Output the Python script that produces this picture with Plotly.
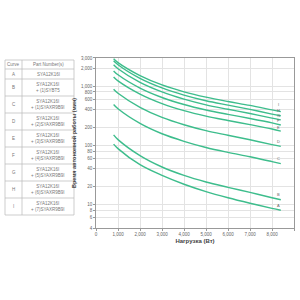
import math
import plotly.graph_objects as go

# ---- data ----
load_w = [800, 1000, 2000, 3000, 4000, 5000, 6000, 7000, 8000, 8400]
curve_names = ["A", "B", "C", "D", "E", "F", "G", "H", "I"]
runtime_A = [105, 88, 47, 31, 22, 16.5, 13, 10.5, 8.6, 8]
runtime_B = [150, 125, 67, 43, 31, 24, 19.5, 16, 13, 12]
runtime_C = [490, 415, 235, 157, 117, 92, 76, 64, 53, 49]
runtime_D = [890, 760, 440, 297, 223, 177, 148, 124, 103, 96]
runtime_E = [1430, 1230, 735, 508, 386, 312, 263, 224, 189, 174]
runtime_F = [1815, 1560, 930, 645, 490, 396, 334, 285, 240, 221]
runtime_G = [2300, 1970, 1160, 800, 603, 483, 407, 345, 288, 270]
runtime_H = [2700, 2310, 1360, 937, 707, 567, 478, 405, 338, 316]
runtime_I = [2900, 2500, 1510, 1050, 803, 652, 551, 473, 397, 371]
series = [runtime_A, runtime_B, runtime_C, runtime_D, runtime_E,
          runtime_F, runtime_G, runtime_H, runtime_I]

y_ticks = [4, 6, 8, 10, 20, 40, 60, 80, 100, 200, 400, 600, 800, 1000, 2000, 3000]
x_ticks = [0, 1000, 2000, 3000, 4000, 5000, 6000, 7000, 8000, 9000]

table_header = ["Curve", "Part Number(s)"]
table_parts = ["SYA12K16I",
               "SYA12K16I<br>+ (1)SYBT5",
               "SYA12K16I<br>+ (1)SYAXR9B9I",
               "SYA12K16I<br>+ (2)SYAXR9B9I",
               "SYA12K16I<br>+ (3)SYAXR9B9I",
               "SYA12K16I<br>+ (4)SYAXR9B9I",
               "SYA12K16I<br>+ (5)SYAXR9B9I",
               "SYA12K16I<br>+ (6)SYAXR9B9I",
               "SYA12K16I<br>+ (7)SYAXR9B9I"]

# label offsets (pixels) above each curve end, A..I
label_yshift = [5, 5, 5, 5, 3.5, 4, 4, 5, 7]

# ---- layout geometry (pixels) ----
W, H = 300, 300
L, R, T, B = 96, 6, 58, 72
PW, PH = W - L - R, H - T - B


def px(x):
    return (x - L) / PW


def py(y):
    return (H - B - y) / PH


GREEN = "#3dbd8c"
FONT = "Liberation Sans, Arial, sans-serif"

fig = go.Figure()
for name, vals, ys in zip(curve_names, series, label_yshift):
    fig.add_trace(go.Scatter(x=load_w, y=vals, mode="lines", name=name,
                             line=dict(color=GREEN, width=1.4, shape="spline"),
                             showlegend=False, hoverinfo="skip"))
    fig.add_annotation(x=load_w[-1], y=math.log10(vals[-1]), xref="x", yref="y",
                       text=name, showarrow=False, xanchor="center",
                       yanchor="middle", xshift=-2, yshift=ys,
                       font=dict(size=4, color="#666", family=FONT))

shapes = []
annots = []
# table geometry
tx0, tx1, tx2 = 5, 22, 74
row_edges = [60, 69, 79] + [79 + 17 * i for i in range(1, 9)]
line_col = "#b8b8b8"
for ye in row_edges:
    shapes.append(dict(type="line", xref="paper", yref="paper",
                       x0=px(tx0), x1=px(tx2), y0=py(ye), y1=py(ye),
                       line=dict(color=line_col, width=0.7)))
for xe in [tx0, tx1, tx2]:
    shapes.append(dict(type="line", xref="paper", yref="paper",
                       x0=px(xe), x1=px(xe), y0=py(row_edges[0]), y1=py(row_edges[-1]),
                       line=dict(color=line_col, width=0.7)))
tfont = dict(size=4.5, color="#777", family=FONT)
annots.append(dict(x=px((tx0 + tx1) / 2), y=py((row_edges[0] + row_edges[1]) / 2),
                   text=table_header[0], font=tfont))
annots.append(dict(x=px((tx1 + tx2) / 2), y=py((row_edges[0] + row_edges[1]) / 2),
                   text=table_header[1], font=tfont))
for i, (nm, part) in enumerate(zip(curve_names, table_parts)):
    yc = (row_edges[i + 1] + row_edges[i + 2]) / 2
    annots.append(dict(x=px((tx0 + tx1) / 2), y=py(yc), text=nm, font=tfont))
    annots.append(dict(x=px((tx1 + tx2) / 2), y=py(yc), text=part, font=tfont))
for a in annots:
    a.update(xref="paper", yref="paper", showarrow=False,
             xanchor="center", yanchor="middle")
    fig.add_annotation(**a)

fig.update_layout(
    width=W, height=H,
    margin=dict(l=L, r=R, t=T, b=B, pad=0),
    paper_bgcolor="white", plot_bgcolor="white",
    shapes=shapes,
    font=dict(family=FONT, size=5, color="#555"),
)
fig.update_xaxes(range=[0, 9000], tickvals=x_ticks,
                 ticktext=[f"{v:,}" for v in x_ticks],
                 showgrid=True, gridcolor="#e3e3e3", gridwidth=0.7,
                 showline=True, linecolor="#999", linewidth=0.8, mirror=True,
                 ticks="outside", ticklen=2, tickcolor="#999",
                 tickfont=dict(size=4.5, color="#666"),
                 title=dict(text="<b>Нагрузка (Вт)</b>", standoff=2,
                            font=dict(size=6, color="#444")),
                 zeroline=False)
fig.update_yaxes(type="log", range=[0.602, 3.477], tickvals=y_ticks,
                 ticktext=[f"{v:,}" for v in y_ticks],
                 showgrid=True, gridcolor="#e3e3e3", gridwidth=0.7,
                 showline=True, linecolor="#999", linewidth=0.8, mirror=True,
                 ticks="outside", ticklen=2, tickcolor="#999",
                 tickfont=dict(size=4.5, color="#666"),
                 title=dict(text="<b>Время автономной работы (мин)</b>", standoff=4,
                            font=dict(size=5.5, color="#444")),
                 zeroline=False)

fig.write_html("out.html")
